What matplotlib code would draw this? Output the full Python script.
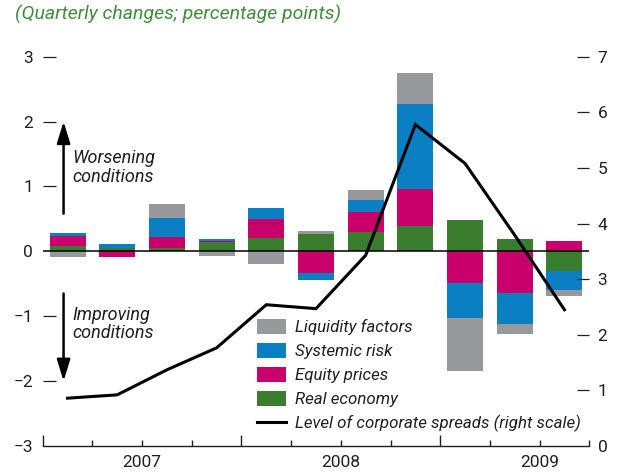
import numpy as np
import matplotlib.pyplot as plt
from matplotlib.patches import Patch
from matplotlib.lines import Line2D
from matplotlib.ticker import FixedLocator

plt.rcParams['font.family'] = ['Roboto', 'DejaVu Sans']

# quarterly contributions (left scale), 2007Q1 .. 2009Q3
quarters = ['2007Q1', '2007Q2', '2007Q3', '2007Q4', '2008Q1', '2008Q2',
            '2008Q3', '2008Q4', '2009Q1', '2009Q2', '2009Q3']
real_economy = [0.08, 0.055, 0.055, 0.15, 0.205, 0.26, 0.30, 0.39, 0.48, 0.185, -0.31]
equity_prices = [0.16, -0.08, 0.165, 0.015, 0.29, -0.33, 0.31, 0.565, -0.49, -0.645, 0.16]
systemic_risk = [0.05, 0.057, 0.29, 0.026, 0.17, -0.11, 0.18, 1.31, -0.54, -0.47, -0.28]
liquidity = [-0.09, 0.0, 0.215, -0.068, -0.19, 0.06, 0.15, 0.48, -0.815, -0.154, -0.10]
# level of corporate spreads (right scale)
spreads = [0.86, 0.92, 1.37, 1.765, 2.54, 2.47, 3.43, 5.78, 5.08, 3.79, 2.45]

years = ['2007', '2008', '2009']

series = [
    (real_economy, 'Real economy', '#3a7d2f'),
    (equity_prices, 'Equity prices', '#c9006b'),
    (systemic_risk, 'Systemic risk', '#0a7fc4'),
    (liquidity, 'Liquidity factors', '#97989c'),
]
text_col = '#231f20'
green_txt = '#3f8f3a'

fig = plt.figure(figsize=(6.21, 4.75), dpi=100)
ax = fig.add_axes([42.7 / 621, 1 - 446 / 475, (589.3 - 42.7) / 621, (446 - 56.7) / 475])
ax2 = ax.twinx()

x = np.arange(len(quarters))
pos = np.zeros(len(x))
neg = np.zeros(len(x))
for vals, name, col in series:
    v = np.array(vals)
    b = np.where(v >= 0, pos, neg)
    ax.bar(x, v, 0.725, bottom=b, color=col, linewidth=0, zorder=2)
    pos = pos + np.clip(v, 0, None)
    neg = neg + np.clip(v, None, 0)

ax.axhline(0, color='black', lw=1.1, zorder=3)
ax2.plot(x, spreads, color='black', lw=2.2, solid_joinstyle='miter', zorder=4)

ax.set_xlim(-0.5, 10.5)
ax.set_ylim(-3, 3)
ax2.set_ylim(0, 7)

for a in (ax, ax2):
    for s in ('top', 'left', 'right', 'bottom'):
        a.spines[s].set_visible(False)
ax.spines['bottom'].set_visible(True)
ax.spines['bottom'].set_linewidth(1.0)
ax.spines['bottom'].set_color(text_col)

ax.set_yticks([-3, -2, -1, 0, 1, 2, 3])
ax.set_yticklabels(['\u22123', '\u22122', '\u22121', '0', '1', '2', '3'])
ax.tick_params(axis='y', direction='in', length=9, width=0.9, pad=7,
               labelsize=12.5, colors=text_col)
ax.get_yticklines()[0].set_visible(False)
ax.get_yticklines()[6].set_visible(False)

ax2.set_yticks(range(0, 8))
ax2.tick_params(axis='y', direction='in', length=9, width=0.9, pad=6,
                labelsize=12.5, colors=text_col)
ax2.get_yticklines()[1].set_visible(False)

ax.xaxis.set_major_locator(FixedLocator([-0.5, 3.5, 7.5]))
ax.xaxis.set_minor_locator(FixedLocator([0.5, 1.5, 2.5, 4.5, 5.5, 6.5, 8.5, 9.5, 10.5]))
ax.set_xticklabels([])
ax.tick_params(axis='x', which='major', direction='in', length=8, width=1.0, color=text_col)
ax.tick_params(axis='x', which='minor', direction='in', length=4.5, width=1.0, color=text_col)
for i, yr in enumerate(years):
    ax.text(1.5 + 4 * i, -0.022, yr, transform=ax.get_xaxis_transform(),
            ha='center', va='top', fontsize=12.5, color=text_col)

# direction arrows
ax.annotate('', xy=(-0.08, 2.0), xytext=(-0.08, 0.58),
            arrowprops=dict(arrowstyle='-|>,head_length=1.3,head_width=0.4',
                            color='black', lw=1.8, shrinkA=0, shrinkB=0))
ax.annotate('', xy=(-0.08, -2.0), xytext=(-0.08, -0.65),
            arrowprops=dict(arrowstyle='-|>,head_length=1.3,head_width=0.4',
                            color='black', lw=1.8, shrinkA=0, shrinkB=0))
ax.text(0.1, 1.29, 'Worsening\nconditions', fontsize=13, style='italic',
        color=text_col, va='center', ha='left', linespacing=1.05)
ax.text(0.1, -1.12, 'Improving\nconditions', fontsize=13, style='italic',
        color=text_col, va='center', ha='left', linespacing=1.05)

handles = [Patch(color=c, lw=0) for _, _, c in series[::-1]]
labels = [n for _, n, _ in series[::-1]]
handles.append(Line2D([], [], color='black', lw=2.2))
labels.append('Level of corporate spreads (right scale)')
leg = ax2.legend(handles, labels, loc='upper left', frameon=False,
                 bbox_to_anchor=(257 / 621, 1 - 319 / 475), bbox_transform=fig.transFigure,
                 fontsize=12.2, handlelength=1.7, handleheight=1.0,
                 handletextpad=0.55, labelspacing=0.45, borderpad=0, borderaxespad=0)
for t in leg.get_texts():
    t.set_style('italic')
    t.set_color(text_col)

fig.text(15 / 621, 1 - 5 / 475, '(Quarterly changes; percentage points)', fontsize=14,
         style='italic', color=green_txt, ha='left', va='top')

fig.savefig('out.png', dpi=100)
